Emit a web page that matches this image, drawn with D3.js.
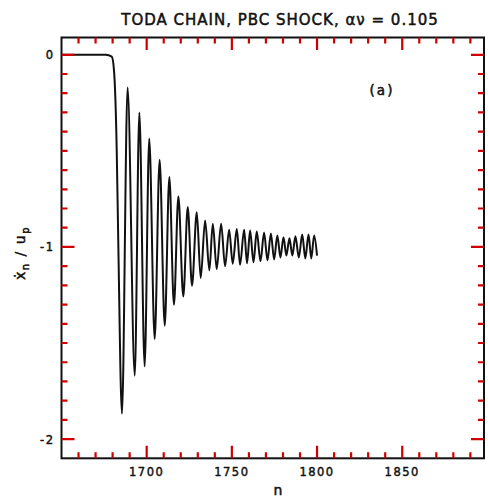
<!DOCTYPE html>
<html>
<head>
<meta charset="utf-8">
<script src="https://cdn.jsdelivr.net/npm/d3@7"></script>
<style>
  html, body { margin: 0; padding: 0; background: #fff; }
  svg { display: block; }
  text { font-family: "DejaVu Sans", "Liberation Sans", sans-serif; fill: #111; }
</style>
</head>
<body>
<svg id="chart" width="488" height="497"></svg>
<script>
// ---- data ----
const titleText = "TODA CHAIN, PBC SHOCK, \u03b1\u03bd = 0.105";
const panelLabel = "(a)";
const xMajorTicks = [1700, 1750, 1800, 1850];
const xMinorTicks = [1660, 1670, 1680, 1690, 1710, 1720, 1730, 1740, 1760, 1770, 1780, 1790, 1810, 1820, 1830, 1840, 1860, 1870, 1880, 1890];
const yMajorTicks = [0, -1, -2];
const yMinorTicks = [-0.1, -0.2, -0.3, -0.4, -0.5, -0.6, -0.7, -0.8, -0.9, -1.1, -1.2, -1.3, -1.4, -1.5, -1.6, -1.7, -1.8, -1.9];
const xDomain = [1650, 1898];
const yDomain = [0.09, -2.1];

const nValues = [1650, 1676, 1679.5, 1680.8, 1682.4, 1683.3, 1685.5, 1688.8, 1693.0, 1695.7,
  1698.8, 1701.5, 1704.7, 1707.6, 1710.6, 1713.3, 1716.0, 1718.6, 1721.5, 1724.1,
  1726.6, 1729.4, 1731.7, 1734.3, 1736.8, 1738.8, 1741.1, 1743.7, 1746.0, 1748.4,
  1750.5, 1752.9, 1754.8, 1757.2, 1758.9, 1760.7, 1762.7, 1764.6, 1766.8, 1768.9,
  1770.9, 1772.9, 1774.8, 1776.7, 1778.5, 1780.3, 1782.0, 1783.8, 1785.5, 1787.3,
  1789.3, 1791.3, 1793.1, 1795.0, 1796.6, 1798.3, 1800.0];
const velocityValues = [0, 0, -0.01, -0.08, -0.49, -0.96, -1.868, -0.170, -1.670, -0.300,
  -1.622, -0.435, -1.479, -0.546, -1.410, -0.636, -1.301, -0.737, -1.258, -0.792,
  -1.202, -0.820, -1.162, -0.862, -1.122, -0.879, -1.115, -0.879, -1.101, -0.910,
  -1.087, -0.907, -1.093, -0.910, -1.085, -0.915, -1.080, -0.920, -1.075, -0.925,
  -1.070, -0.930, -1.065, -0.940, -1.055, -0.950, -1.045, -0.955, -1.045, -0.945,
  -1.055, -0.935, -1.060, -0.935, -1.060, -0.940, -1.045];

// ---- layout ----
const plotLeft = 61.5, plotTop = 37.5, plotRight = 484, plotBottom = 458.3;
const svg = d3.select("#chart");

const x = d3.scaleLinear().domain(xDomain).range([plotLeft, plotRight]);
const y = d3.scaleLinear().domain(yDomain).range([plotTop, plotBottom]);

const points = nValues.map((n, i) => ({ n, v: velocityValues[i] }));

// curve
const line = d3.line().x(d => x(d.n)).y(d => y(d.v)).curve(d3.curveMonotoneX);
svg.append("path").datum(points)
  .attr("d", line)
  .attr("fill", "none")
  .attr("stroke", "#111")
  .attr("stroke-width", 2)
  .attr("stroke-linejoin", "round");

// frame
svg.append("rect")
  .attr("x", plotLeft).attr("y", plotTop)
  .attr("width", plotRight - plotLeft).attr("height", plotBottom - plotTop)
  .attr("fill", "none").attr("stroke", "#111").attr("stroke-width", 2);

// inward ticks on all four sides (drawn after the frame)
const tp = d3.path();
function addXTicks(vals, len) {
  vals.forEach(v => {
    const px = x(v);
    tp.moveTo(px, plotBottom); tp.lineTo(px, plotBottom - len);
    tp.moveTo(px, plotTop); tp.lineTo(px, plotTop + len);
  });
}
function addYTicks(vals, len) {
  vals.forEach(v => {
    const py = y(v);
    tp.moveTo(plotLeft, py); tp.lineTo(plotLeft + len, py);
    tp.moveTo(plotRight, py); tp.lineTo(plotRight - len, py);
  });
}
addXTicks(xMinorTicks, 6);
addXTicks(xMajorTicks, 12.5);
addYTicks(yMinorTicks, 6);
addYTicks(yMajorTicks, 13);
svg.append("path")
  .attr("d", tp.toString())
  .attr("fill", "none")
  .attr("stroke", "#d00000")
  .attr("stroke-width", 2.2);

// tick labels
const labelStyle = sel => sel
  .style("font-size", "11.5px")
  .style("letter-spacing", "1.5px")
  .attr("stroke", "#111").attr("stroke-width", 0.45);

svg.append("g").selectAll("text").data(xMajorTicks).join("text")
  .attr("x", d => x(d)).attr("y", plotBottom + 18)
  .attr("text-anchor", "middle")
  .call(labelStyle)
  .text(d3.format("d"));

svg.append("g").selectAll("text").data(yMajorTicks).join("text")
  .attr("x", plotLeft - 7).attr("y", d => y(d) + 4.5)
  .attr("text-anchor", "end")
  .call(labelStyle)
  .text(d => d === 0 ? "0" : "-" + Math.abs(d));

// title
svg.append("text")
  .attr("x", 280).attr("y", 25)
  .attr("text-anchor", "middle")
  .style("font-size", "15px")
  .style("letter-spacing", "1px")
  .attr("stroke", "#111").attr("stroke-width", 0.5)
  .text(titleText);

// panel label
svg.append("text")
  .attr("x", 382).attr("y", 95)
  .attr("text-anchor", "middle")
  .style("font-size", "13.5px")
  .style("letter-spacing", "2px")
  .attr("stroke", "#111").attr("stroke-width", 0.5)
  .text(panelLabel);

// x label
svg.append("text")
  .attr("x", 278).attr("y", 495)
  .attr("text-anchor", "middle")
  .style("font-size", "14px")
  .attr("stroke", "#111").attr("stroke-width", 0.5)
  .text("n");

// y label
const yl = svg.append("text")
  .attr("transform", "translate(25,253) rotate(-90)")
  .attr("text-anchor", "middle")
  .style("font-size", "14px")
  .style("letter-spacing", "1.5px")
  .attr("stroke", "#111").attr("stroke-width", 0.5);
yl.append("tspan").text("\u1e8b");
yl.append("tspan").attr("dy", 4).style("font-size", "10px").text("n");
yl.append("tspan").attr("dy", -4).text(" / u");
yl.append("tspan").attr("dy", 4).style("font-size", "10px").text("p");
</script>
</body>
</html>
